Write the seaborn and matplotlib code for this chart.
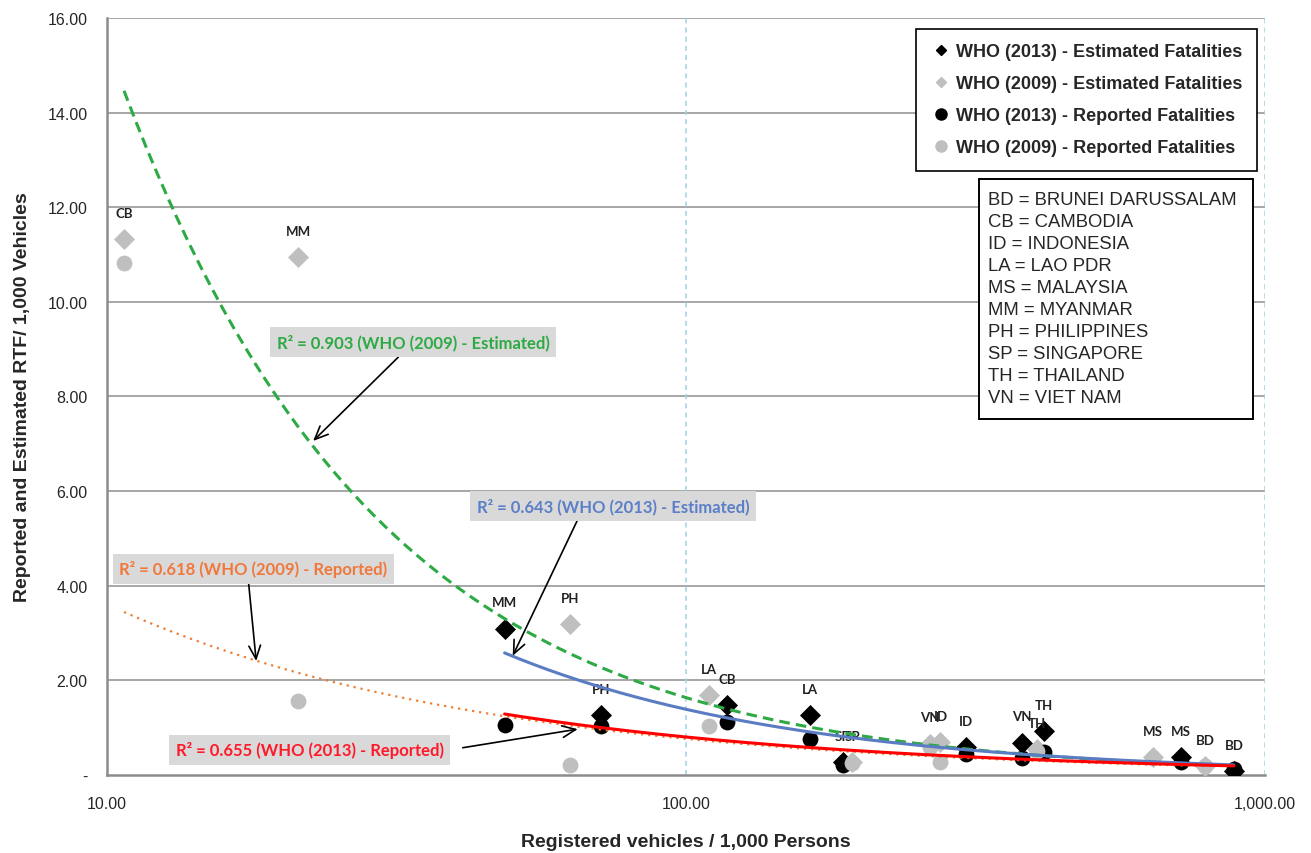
import numpy as np
import pandas as pd
import seaborn as sns
import matplotlib
matplotlib.use("Agg")
import matplotlib.pyplot as plt
from matplotlib.lines import Line2D
from matplotlib.patches import Rectangle
from matplotlib.ticker import FixedLocator, FixedFormatter, NullLocator

# =============================
# Data
# =============================
est13_codes = ["MM", "PH", "CB", "LA", "SP", "ID", "VN", "TH", "MS", "BD"]
est13_x = [48.6, 71.3, 117.8, 163.7, 186.6, 304.7, 380.0, 415.0, 716.0, 883.0]
est13_y = [3.09, 1.27, 1.48, 1.27, 0.27, 0.59, 0.68, 0.93, 0.38, 0.08]
rep13_y = [1.06, 1.04, 1.12, 0.76, 0.21, 0.45, 0.36, 0.49, 0.27, 0.12]

est09_codes = ["CB", "MM", "PH", "LA", "SP", "VN", "ID", "TH", "MS", "BD"]
est09_x = [10.7, 21.4, 63.1, 109.7, 193.6, 263.8, 275.0, 404.0, 641.0, 787.0]
est09_y = [11.33, 10.95, 3.19, 1.69, 0.27, 0.66, 0.70, 0.55, 0.38, 0.19]
rep09_y = [10.82, 1.56, 0.21, 1.04, 0.25, 0.60, 0.27, 0.50, 0.35, 0.20]

legend_labels = ["WHO (2013) - Estimated Fatalities",
                 "WHO (2009) - Estimated Fatalities",
                 "WHO (2013) - Reported Fatalities",
                 "WHO (2009) - Reported Fatalities"]

r2_texts = ["R² = 0.903 (WHO (2009) - Estimated)",
            "R² = 0.643 (WHO (2013) - Estimated)",
            "R² = 0.618 (WHO (2009) - Reported)",
            "R² = 0.655 (WHO (2013) - Reported)"]

country_key = ["BD = BRUNEI DARUSSALAM", "CB = CAMBODIA", "ID = INDONESIA",
               "LA = LAO PDR", "MS = MALAYSIA", "MM = MYANMAR",
               "PH = PHILIPPINES", "SP = SINGAPORE", "TH = THAILAND",
               "VN = VIET NAM"]

x_ticks = [10, 100, 1000]
x_tick_labels = ["10.00", "100.00", "1,000.00"]
y_ticks = [0, 2, 4, 6, 8, 10, 12, 14, 16]
y_tick_labels = ["-", "2.00", "4.00", "6.00", "8.00", "10.00", "12.00", "14.00", "16.00"]

BLACK = "#000000"
GRAY = "#bfbfbf"
GREEN = "#2eaa44"
BLUE = "#5a7cc2"
RED = "#ff0000"
ORANGE = "#ed7d31"


def power_fit(x, y):
    # Excel-style power trendline: linear fit in log-log space
    b, ln_a = np.polyfit(np.log(x), np.log(y), 1)
    xs = np.geomspace(min(x), max(x), 200)
    return pd.DataFrame({"x": xs, "y": np.exp(ln_a) * xs ** b})


# =============================
# Figure
# =============================
sns.set_style("white")
plt.rcParams["font.family"] = ["Liberation Sans", "DejaVu Sans"]

fig = plt.figure(figsize=(13.11, 8.54), dpi=100)
ax = fig.add_axes([0.0816, 0.0913, 0.8834, 0.8865])

ax.set_xscale("log")
ax.set_xlim(10, 1000)
ax.set_ylim(0, 16)

# grid
for yv in y_ticks[1:]:
    ax.axhline(yv, color="#a6a6a6", lw=1.4, zorder=0)
for xv in x_ticks[1:]:
    ax.axvline(xv, color="#a9d3e3", lw=1.2, ls=(0, (3, 2.5)), zorder=0)

# points
sns.scatterplot(x=est13_x, y=est13_y, marker="D", s=115, color=BLACK,
                linewidth=0, ax=ax, zorder=3)
sns.scatterplot(x=est09_x, y=est09_y, marker="D", s=115, color=GRAY,
                linewidth=0, ax=ax, zorder=3)
sns.scatterplot(x=est13_x, y=rep13_y, marker="o", s=130, color=BLACK,
                linewidth=0, ax=ax, zorder=3)
sns.scatterplot(x=est09_x, y=rep09_y, marker="o", s=130, color=GRAY,
                linewidth=0, ax=ax, zorder=3)

# country code labels above the estimated points
for code, xv, yv in zip(est13_codes, est13_x, est13_y):
    ax.annotate(code, (xv, yv), xytext=(0, 19), textcoords="offset points",
                ha="center", va="center", fontsize=9.5, fontweight="bold",
                family=["Lato", "DejaVu Sans"], color="#222222", zorder=4)
for code, xv, yv in zip(est09_codes, est09_x, est09_y):
    ax.annotate(code, (xv, yv), xytext=(0, 19), textcoords="offset points",
                ha="center", va="center", fontsize=9.5, fontweight="bold",
                family=["Lato", "DejaVu Sans"], color="#222222", zorder=4)

# trendlines
sns.lineplot(data=power_fit(est09_x, est09_y), x="x", y="y", ax=ax, color=GREEN,
             lw=2.2, linestyle=(0, (3.5, 2)), sort=False, estimator=None, zorder=5)
sns.lineplot(data=power_fit(est09_x, rep09_y), x="x", y="y", ax=ax, color=ORANGE,
             lw=1.6, linestyle=(0, (1, 2.2)), sort=False, estimator=None, zorder=5)
sns.lineplot(data=power_fit(est13_x, est13_y), x="x", y="y", ax=ax, color=BLUE,
             lw=2.2, sort=False, estimator=None, zorder=5)
sns.lineplot(data=power_fit(est13_x, rep13_y), x="x", y="y", ax=ax, color=RED,
             lw=2.2, sort=False, estimator=None, zorder=5)

# R² call-outs: text, colour, box centre, arrow tip, arrow start on box, gap
callouts = [
    (r2_texts[0], GREEN, (33.8, 9.15), (22.7, 7.06), (0.47, 0.0), 0),
    (r2_texts[1], "#5b7fc8", (74.8, 5.69), (50.2, 2.52), (0.38, 0.0), 0),
    (r2_texts[2], "#f0783c", (17.9, 4.36), (18.1, 2.41), (0.48, 0.0), 0),
    (r2_texts[3], "#ff1a2a", (22.4, 0.53), (65.0, 0.97), (1.0, 0.45), 9),
]
for txt, col, pos, tip, rel, gap in callouts:
    ax.annotate(txt, xy=tip, xytext=pos, ha="center", va="center",
                fontsize=12, fontweight="bold", color=col,
                family=["Lato", "DejaVu Sans"],
                bbox=dict(boxstyle="square,pad=0.4", fc="#d9d9d9", ec="none"),
                arrowprops=dict(arrowstyle="->,head_length=0.8,head_width=0.35",
                                color="black", lw=1.2, shrinkA=gap, shrinkB=0,
                                relpos=rel),
                zorder=6)

# legend
handles = [
    Line2D([], [], ls="none", marker="D", ms=5.5, color=BLACK),
    Line2D([], [], ls="none", marker="D", ms=5.5, color=GRAY),
    Line2D([], [], ls="none", marker="o", ms=8, color=BLACK),
    Line2D([], [], ls="none", marker="o", ms=8, color=GRAY),
]
leg = ax.legend(handles, legend_labels, loc="upper right",
                bbox_to_anchor=(0.993, 0.9855), borderaxespad=0,
                prop={"weight": "bold", "size": 13}, labelspacing=0.83,
                handlelength=1.2, handletextpad=0.25, borderpad=0.8,
                fancybox=False, framealpha=1, edgecolor="black")
leg.get_frame().set_linewidth(1.2)
leg.set_zorder(7)

# country key box
ax.add_patch(Rectangle((0.753, 0.470), 0.2366, 0.317, transform=ax.transAxes,
                       fc="white", ec="black", lw=1.4, zorder=7))
ax.text(0.761, 0.772, "\n".join(country_key), transform=ax.transAxes,
        ha="left", va="top", fontsize=13.3, linespacing=1.39, zorder=8)

# axes styling
ax.xaxis.set_major_locator(FixedLocator(x_ticks))
ax.xaxis.set_major_formatter(FixedFormatter(x_tick_labels))
ax.xaxis.set_minor_locator(NullLocator())
ax.yaxis.set_major_locator(FixedLocator(y_ticks))
ax.yaxis.set_major_formatter(FixedFormatter(y_tick_labels))
ax.tick_params(axis="both", which="major", direction="out", length=6,
               width=1.3, color="#8c8c8c", labelsize=11.5, pad=8)
ax.tick_params(axis="x", pad=9)

for side in ["top", "right"]:
    ax.spines[side].set_visible(False)
for side in ["left", "bottom"]:
    ax.spines[side].set_color("#8c8c8c")
    ax.spines[side].set_linewidth(1.8)

ax.set_xlabel("Registered vehicles / 1,000 Persons", fontsize=14,
              fontweight="bold", labelpad=16)
ax.set_ylabel("Reported and Estimated RTF/ 1,000 Vehicles", fontsize=14,
              fontweight="bold", labelpad=12)

fig.savefig("out.png", dpi=100)
